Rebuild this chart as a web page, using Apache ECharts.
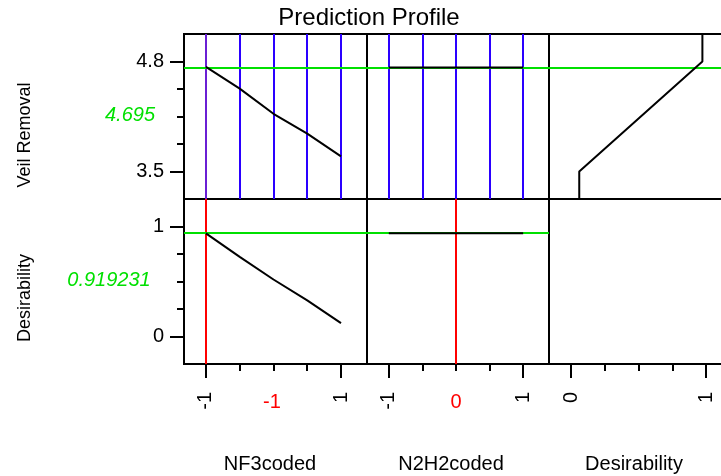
<!DOCTYPE html>
<html>
<head>
<meta charset="utf-8">
<title>Prediction Profile</title>
<script src="https://cdn.jsdelivr.net/npm/echarts@6/dist/echarts.min.js"></script>
<style>
  html, body { margin: 0; padding: 0; background: #fff; }
  #chart { width: 721px; height: 476px; }
</style>
</head>
<body>
<div id="chart"></div>
<script>
// factor levels (coded)
var nf3Levels = [-1, -0.5, 0, 0.5, 1]
var n2h2Levels = [-1, -0.5, 0, 0.5, 1]

// Veil Removal profile traces
var veilByNF3 = [4.736, 4.479, 4.182, 3.948, 3.678]
var veilByN2H2 = [4.73, 4.73, 4.73, 4.73, 4.73]

// Desirability profile traces
var desirByNF3 = [0.938, 0.724, 0.518, 0.329, 0.121]
var desirByN2H2 = [0.938, 0.938, 0.938, 0.938, 0.938]

// desirability function of Veil Removal (x = desirability, y = response)
var desirFnX = [0.061, 0.061, 0.973, 0.973]
var desirFnY = [3.175, 3.5, 4.8, 5.125]

// current settings
var currentNF3 = -1
var currentN2H2 = 0
var currentVeil = 4.73
var currentDesir = 0.938
var currentVeilText = '4.695'
var currentDesirText = '0.919231'
var currentNF3Text = '-1'
var currentN2H2Text = '0'

// tick marks
var veilTicks = [3.5, 4.8]
var veilMinor = [3.825, 4.15, 4.475]
var desirTicks = [0, 1]
var desirMinor = [0.25, 0.5, 0.75]
var factorTicks = [-1, 1]
var factorMinor = [-0.5, 0, 0.5]

var FONT = "'Liberation Sans', Arial, sans-serif"
var BLUE = '#2a00ff'
var PURPLE = '#6a1fd4'
var GREEN = '#00e000'
var RED = '#ff0000'

var fRange = [-1.325, 1.385]
var dRange = [-0.163, 1.17]
var veilRange = [3.175, 5.125]
var desirRange = [-0.25, 1.25]

var chart = echarts.init(document.getElementById('chart'))

function pairs(xs, ys) {
  return xs.map(function (x, i) { return [x, ys[i]] })
}

function axis(pos, gridIndex, range, ticks, opts) {
  opts = opts || {}
  return {
    type: 'value',
    position: pos,
    offset: 0,
    gridIndex: gridIndex,
    min: range[0],
    max: range[1],
    axisLine: { show: false, onZero: false },
    splitLine: { show: false },
    axisTick: {
      show: !!ticks,
      length: opts.minor ? 7 : 14,
      customValues: ticks || [],
      lineStyle: { color: '#000', width: 2 }
    },
    axisLabel: {
      show: !!ticks && !opts.minor,
      customValues: ticks || [],
      rotate: opts.rotate || 0,
      margin: opts.margin || 20,
      fontSize: 20,
      fontFamily: FONT,
      color: '#000'
    }
  }
}

var gridBox = {
  show: true, borderColor: '#000', borderWidth: 2, backgroundColor: 'transparent',
  containLabel: false, outerBoundsMode: 'none'
}

function vlines(xAxisIndex, yAxisIndex, levels, colorFn) {
  return {
    type: 'line', xAxisIndex: xAxisIndex, yAxisIndex: yAxisIndex, data: [],
    markLine: {
      silent: true, symbol: 'none', z: 1, animation: false,
      label: { show: false },
      data: levels.map(function (v) {
        return { xAxis: v, lineStyle: { color: colorFn(v), width: 2, type: 'solid' } }
      })
    }
  }
}

function hline(xAxisIndex, yAxisIndex, value) {
  return {
    type: 'line', xAxisIndex: xAxisIndex, yAxisIndex: yAxisIndex, data: [],
    markLine: {
      silent: true, symbol: 'none', z: 1, animation: false,
      label: { show: false },
      lineStyle: { color: GREEN, width: 2, type: 'solid' },
      data: [{ yAxis: value }]
    }
  }
}

function trace(xAxisIndex, yAxisIndex, data) {
  return {
    type: 'line', xAxisIndex: xAxisIndex, yAxisIndex: yAxisIndex, z: 3,
    symbol: 'none', silent: true,
    lineStyle: { color: '#000', width: 2 },
    data: data
  }
}

chart.setOption({
  backgroundColor: '#fff',
  animation: false,
  grid: [
    Object.assign({ left: 184, top: 34, width: 183, height: 165 }, gridBox),
    Object.assign({ left: 367, top: 34, width: 182, height: 165 }, gridBox),
    Object.assign({ left: 549, top: 34, width: 180, height: 165 }, gridBox),
    Object.assign({ left: 184, top: 199, width: 183, height: 165 }, gridBox),
    Object.assign({ left: 367, top: 199, width: 182, height: 165 }, gridBox),
    Object.assign({ left: 549, top: 199, width: 180, height: 165 }, gridBox)
  ],
  xAxis: [
    axis('bottom', 0, fRange),
    axis('bottom', 1, fRange),
    axis('bottom', 2, dRange),
    axis('bottom', 3, fRange, factorTicks, { rotate: 90, margin: 28 }),
    axis('bottom', 4, fRange, factorTicks, { rotate: 90, margin: 28 }),
    axis('bottom', 5, dRange, desirTicks, { rotate: 90, margin: 28 }),
    axis('bottom', 3, fRange, factorMinor, { minor: true }),
    axis('bottom', 4, fRange, factorMinor, { minor: true }),
    axis('bottom', 5, dRange, desirMinor, { minor: true })
  ],
  yAxis: [
    axis('left', 0, veilRange, veilTicks, { margin: 20 }),
    axis('left', 1, veilRange),
    axis('left', 2, veilRange),
    axis('left', 3, desirRange, desirTicks, { margin: 20 }),
    axis('left', 4, desirRange),
    axis('left', 5, desirRange),
    axis('left', 0, veilRange, veilMinor, { minor: true }),
    axis('left', 3, desirRange, desirMinor, { minor: true })
  ],
  graphic: [
    { type: 'text', x: 369, y: 18, style: { text: 'Prediction Profile', fontSize: 24, fontFamily: FONT, fill: '#000', align: 'center', verticalAlign: 'middle' } },
    { type: 'text', x: 25, y: 135, rotation: Math.PI / 2, style: { text: 'Veil Removal', fontSize: 18, fontFamily: FONT, fill: '#000', align: 'center', verticalAlign: 'middle' } },
    { type: 'text', x: 25, y: 298, rotation: Math.PI / 2, style: { text: 'Desirability', fontSize: 18, fontFamily: FONT, fill: '#000', align: 'center', verticalAlign: 'middle' } },
    { type: 'text', x: 130, y: 115, style: { text: currentVeilText, fontSize: 20, fontStyle: 'italic', fontFamily: FONT, fill: GREEN, align: 'center', verticalAlign: 'middle' } },
    { type: 'text', x: 109, y: 280, style: { text: currentDesirText, fontSize: 20, fontStyle: 'italic', fontFamily: FONT, fill: GREEN, align: 'center', verticalAlign: 'middle' } },
    { type: 'text', x: 272, y: 402, style: { text: currentNF3Text, fontSize: 20, fontFamily: FONT, fill: RED, align: 'center', verticalAlign: 'middle' } },
    { type: 'text', x: 456, y: 402, style: { text: currentN2H2Text, fontSize: 20, fontFamily: FONT, fill: RED, align: 'center', verticalAlign: 'middle' } },
    { type: 'text', x: 270, y: 464, style: { text: 'NF3coded', fontSize: 20, fontFamily: FONT, fill: '#000', align: 'center', verticalAlign: 'middle' } },
    { type: 'text', x: 451, y: 464, style: { text: 'N2H2coded', fontSize: 20, fontFamily: FONT, fill: '#000', align: 'center', verticalAlign: 'middle' } },
    { type: 'text', x: 634, y: 464, style: { text: 'Desirability', fontSize: 20, fontFamily: FONT, fill: '#000', align: 'center', verticalAlign: 'middle' } }
  ],
  series: [
    // level lines in the response row, current setting lines in the desirability row
    vlines(0, 0, nf3Levels, function (v) { return v === currentNF3 ? PURPLE : BLUE }),
    vlines(1, 1, n2h2Levels, function () { return BLUE }),
    vlines(3, 3, [currentNF3], function () { return RED }),
    vlines(4, 4, [currentN2H2], function () { return RED }),
    // current predicted values
    hline(0, 0, currentVeil),
    hline(1, 1, currentVeil),
    hline(2, 2, currentVeil),
    hline(3, 3, currentDesir),
    hline(4, 4, currentDesir),
    // profile traces
    trace(0, 0, pairs(nf3Levels, veilByNF3)),
    trace(1, 1, pairs(n2h2Levels, veilByN2H2)),
    trace(2, 2, pairs(desirFnX, desirFnY)),
    trace(3, 3, pairs(nf3Levels, desirByNF3)),
    trace(4, 4, pairs(n2h2Levels, desirByN2H2))
  ]
})
</script>
</body>
</html>
